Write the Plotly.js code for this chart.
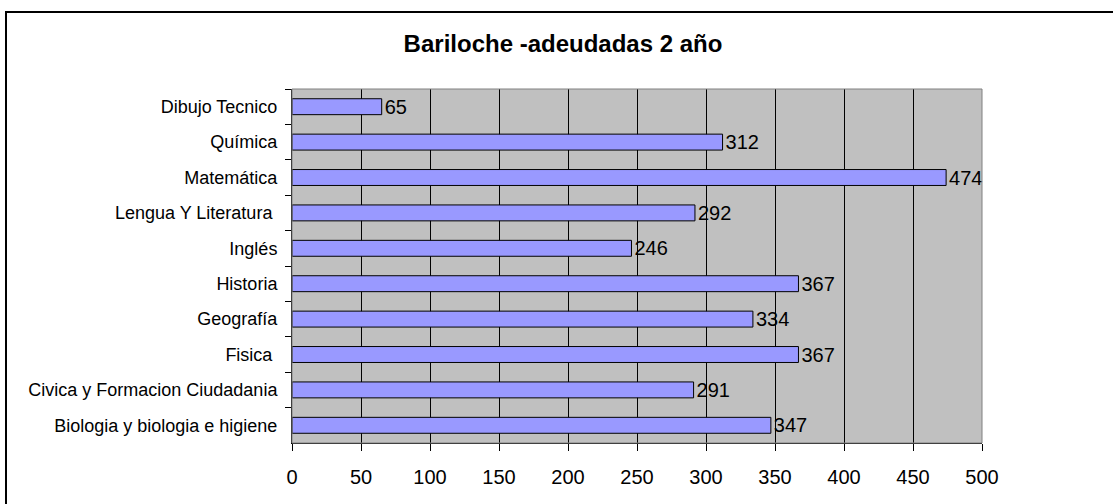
<!DOCTYPE html>
<html>
<head>
<meta charset="utf-8">
<script src="https://cdn.plot.ly/plotly-3.0.1.min.js"></script>
<style>
html,body{margin:0;padding:0;background:#fff;}
#chart{width:1113px;height:504px;}
</style>
</head>
<body>
<div id="chart"></div>
<script>
var categories = ["Dibujo Tecnico", "Química", "Matemática", "Lengua Y Literatura\u00a0", "Inglés", "Historia", "Geografía", "Fisica\u00a0", "Civica y Formacion Ciudadania", "Biologia y biologia e higiene"];
var values = [65, 312, 474, 292, 246, 367, 334, 367, 291, 347];
var xTicks = [0, 50, 100, 150, 200, 250, 300, 350, 400, 450, 500];
var titleText = "Bariloche -adeudadas 2 año";

var W = 1113, H = 504;
var L = 292, R = 982, T = 89, B = 443;
var pw = R - L, ph = B - T;
var FONT = "Liberation Sans, Arial, sans-serif";

var trace = {
  type: "bar",
  orientation: "h",
  x: values,
  y: categories,
  text: values.map(String),
  textposition: "outside",
  constraintext: "none",
  cliponaxis: false,
  textfont: {family: FONT, size: 20, color: "#000"},
  marker: {color: "#9999FF", line: {color: "#000", width: 1}},
  hoverinfo: "x+y"
};

var layout = {
  width: W, height: H,
  margin: {l: L, r: W - R, t: T, b: H - B, pad: 0},
  paper_bgcolor: "#fff",
  plot_bgcolor: "#C0C0C0",
  showlegend: false,
  bargap: 0.55,
  font: {family: FONT, color: "#000"},
  title: {
    text: "<b>" + titleText + "</b>",
    font: {family: FONT, size: 24, color: "#000"},
    xref: "container", yref: "container",
    x: 563 / W, y: 1 - 44 / H,
    xanchor: "center", yanchor: "middle"
  },
  xaxis: {
    range: [0, 500],
    tickvals: xTicks,
    ticktext: xTicks.map(String),
    showgrid: true, gridcolor: "#000", gridwidth: 1,
    zeroline: false,
    showline: true, linecolor: "#000", linewidth: 1,
    ticks: "outside", ticklen: 7, tickcolor: "#000", tickwidth: 1,
    ticklabelstandoff: 9,
    tickfont: {family: FONT, size: 20, color: "#000"},
    fixedrange: true
  },
  yaxis: {
    type: "category",
    autorange: "reversed",
    tickson: "boundaries",
    showgrid: false,
    zeroline: false,
    showline: true, linecolor: "#000", linewidth: 1,
    ticks: "outside", ticklen: 6, tickcolor: "#000", tickwidth: 1,
    ticklabelstandoff: 10,
    tickfont: {family: FONT, size: 18, color: "#000"},
    fixedrange: true
  },
  shapes: [
    {type: "rect", xref: "paper", yref: "paper", x0: 0, x1: 1, y0: 0, y1: 1,
     line: {color: "#808080", width: 1}, fillcolor: "rgba(0,0,0,0)", layer: "above"},
    {type: "rect", xref: "paper", yref: "paper",
     x0: (6 - L) / pw, x1: (W + 10 - L) / pw,
     y0: (B - (H + 10)) / ph, y1: (B - 12) / ph,
     line: {color: "#000", width: 2}, fillcolor: "rgba(0,0,0,0)", layer: "above"}
  ]
};

Plotly.newPlot("chart", [trace], layout, {displayModeBar: false, staticPlot: true});
</script>
</body>
</html>
